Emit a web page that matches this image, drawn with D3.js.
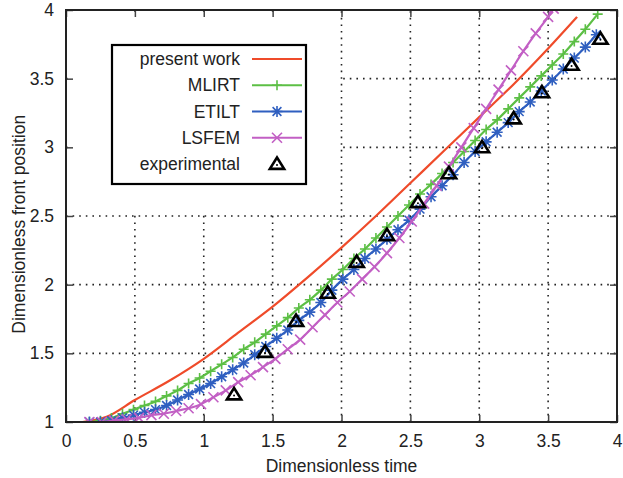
<!DOCTYPE html>
<html>
<head>
<meta charset="utf-8">
<script src="https://cdn.jsdelivr.net/npm/d3@7"></script>
<style>
  body { margin: 0; background: #fff; }
  text { font-family: "Liberation Sans", Arial, sans-serif; fill: #222; }
</style>
</head>
<body>
<svg id="chart" width="623" height="478"></svg>
<script>
// values
const xTicks = [0, 0.5, 1, 1.5, 2, 2.5, 3, 3.5, 4];
const yTicks = [1, 1.5, 2, 2.5, 3, 3.5, 4];

const presentT = [0.12, 0.3, 0.5, 0.75, 1.0, 1.25, 1.5, 1.75, 2.0, 2.25, 2.5, 2.75, 3.0, 3.25, 3.5, 3.71];
const presentV = [1.0, 1.04, 1.16, 1.30, 1.46, 1.65, 1.84, 2.05, 2.27, 2.5, 2.74, 2.98, 3.22, 3.46, 3.72, 3.95];

const mlirtT = [0.17, 0.25, 0.33, 0.41, 0.49, 0.57, 0.65, 0.73, 0.81, 0.89, 0.97, 1.05, 1.13, 1.21, 1.29, 1.37,
  1.45, 1.53, 1.61, 1.69, 1.77, 1.85, 1.93, 2.01, 2.09, 2.17, 2.25, 2.33, 2.41, 2.49, 2.57, 2.65, 2.73, 2.81,
  2.89, 2.97, 3.05, 3.13, 3.21, 3.29, 3.37, 3.45, 3.53, 3.61, 3.69, 3.77, 3.86];
const mlirtV = [1.00, 1.01, 1.03, 1.06, 1.09, 1.12, 1.15, 1.19, 1.23, 1.28, 1.32, 1.37, 1.42, 1.47, 1.53, 1.58,
  1.64, 1.70, 1.76, 1.83, 1.89, 1.96, 2.04, 2.11, 2.19, 2.26, 2.34, 2.42, 2.50, 2.58, 2.66, 2.73, 2.81, 2.89,
  2.97, 3.05, 3.13, 3.20, 3.28, 3.36, 3.44, 3.52, 3.60, 3.68, 3.77, 3.86, 3.97];

const etiltT = [0.17, 0.25, 0.33, 0.41, 0.49, 0.57, 0.65, 0.73, 0.81, 0.89, 0.97, 1.05, 1.13, 1.21, 1.29, 1.37,
  1.45, 1.53, 1.61, 1.69, 1.77, 1.85, 1.93, 2.01, 2.09, 2.17, 2.25, 2.33, 2.41, 2.49, 2.57, 2.65, 2.73, 2.81,
  2.89, 2.97, 3.05, 3.13, 3.21, 3.29, 3.37, 3.45, 3.53, 3.61, 3.69, 3.77, 3.85];
const etiltV = [1.00, 1.00, 1.01, 1.03, 1.05, 1.07, 1.09, 1.12, 1.16, 1.20, 1.24, 1.28, 1.33, 1.38, 1.43, 1.49,
  1.55, 1.61, 1.67, 1.74, 1.80, 1.87, 1.96, 2.04, 2.11, 2.19, 2.26, 2.33, 2.40, 2.47, 2.55, 2.64, 2.72, 2.80,
  2.89, 2.97, 3.04, 3.11, 3.18, 3.26, 3.33, 3.41, 3.49, 3.57, 3.65, 3.73, 3.82];

const lsfemT = [0.17, 0.26, 0.35, 0.44, 0.53, 0.62, 0.71, 0.80, 0.89, 0.98, 1.07, 1.16, 1.25, 1.34, 1.43, 1.52,
  1.61, 1.70, 1.79, 1.88, 1.97, 2.06, 2.15, 2.24, 2.33, 2.42, 2.51, 2.60, 2.69, 2.78, 2.87, 2.96, 3.05, 3.14,
  3.23, 3.32, 3.41, 3.50, 3.54];
const lsfemV = [1.00, 1.00, 1.01, 1.02, 1.03, 1.05, 1.06, 1.08, 1.10, 1.13, 1.18, 1.23, 1.29, 1.34, 1.40, 1.46,
  1.53, 1.60, 1.69, 1.78, 1.87, 1.95, 2.04, 2.13, 2.23, 2.34, 2.46, 2.59, 2.72, 2.86, 3.00, 3.14, 3.28, 3.42,
  3.56, 3.70, 3.83, 3.95, 4.01];

const expT = [1.22, 1.445, 1.67, 1.90, 2.11, 2.33, 2.555, 2.78, 3.02, 3.25, 3.455, 3.67, 3.88];
const expV = [1.20, 1.51, 1.735, 1.94, 2.165, 2.36, 2.60, 2.81, 3.00, 3.21, 3.40, 3.60, 3.79];

const legendNames = ["present work", "MLIRT", "ETILT", "LSFEM", "experimental"];

const colors = {
  present: "#ef4b2a",
  mlirt: "#5cbf45",
  etilt: "#2f5fc0",
  lsfem: "#c25fc4",
  exp: "#000"
};

const svg = d3.select("#chart");
const x = d3.scaleLinear().domain([0, 4]).range([66, 617]);
const y = d3.scaleLinear().domain([1, 4]).range([422, 10]);

const zip = (ts, vs) => ts.map((t, i) => ({ t: t, v: vs[i] }));

// clip for plot area
svg.append("clipPath").attr("id", "plotClip")
  .append("rect")
  .attr("x", x(0)).attr("y", y(4))
  .attr("width", x(4) - x(0)).attr("height", y(1) - y(4));

// grid (dotted)
const grid = svg.append("g").attr("stroke", "#222").attr("stroke-width", 1.6)
  .attr("stroke-dasharray", "1.6,5");
grid.selectAll(".gx").data(xTicks.slice(1, -1)).enter().append("line")
  .attr("x1", d => x(d)).attr("x2", d => x(d))
  .attr("y1", y(1)).attr("y2", y(4));
grid.selectAll(".gy").data(yTicks.slice(1, -1)).enter().append("line")
  .attr("x1", x(0)).attr("x2", x(4))
  .attr("y1", d => y(d)).attr("y2", d => y(d));

// the upper left block of the grid is blanked out behind the key
svg.append("rect")
  .attr("x", x(0) + 2).attr("y", y(4) + 2)
  .attr("width", x(2) - x(0) - 4).attr("height", y(2.5) - y(4) - 4)
  .attr("fill", "#fff");

// ticks & labels
const xAxis = d3.axisBottom(x).tickValues(xTicks).tickSize(-7).tickPadding(13)
  .tickFormat(d3.format("~g"));
const yAxis = d3.axisLeft(y).tickValues(yTicks).tickSize(-7).tickPadding(12)
  .tickFormat(d3.format("~g"));

const gx = svg.append("g").attr("transform", `translate(0,${y(1)})`).call(xAxis);
const gy = svg.append("g").attr("transform", `translate(${x(0)},0)`).call(yAxis);
svg.append("g").attr("transform", `translate(0,${y(4)})`)
  .call(d3.axisTop(x).tickValues(xTicks).tickSize(-7).tickFormat(""));
svg.append("g").attr("transform", `translate(${x(4)},0)`)
  .call(d3.axisRight(y).tickValues(yTicks).tickSize(-7).tickFormat(""));

svg.selectAll(".domain").remove();
svg.selectAll(".tick line").attr("stroke", "#444").attr("stroke-width", 1.5);
gx.selectAll("text").style("font-size", "17.5px").attr("fill", "#222");
gy.selectAll("text").style("font-size", "17.5px").attr("fill", "#222");

// axis titles
svg.append("text")
  .attr("x", x(2)).attr("y", 472)
  .attr("text-anchor", "middle")
  .style("font-size", "17.5px")
  .text("Dimensionless time");
svg.append("text")
  .attr("transform", `translate(25,${y(2.44)}) rotate(-90)`)
  .attr("text-anchor", "middle")
  .style("font-size", "17.5px")
  .text("Dimensionless front position");

// marker shapes
function plusPath(s) { return `M${-s},0H${s}M0,${-s}V${s}`; }
function crossPath(s) { return `M${-s},${-s}L${s},${s}M${-s},${s}L${s},${-s}`; }
function starPath(s) { return plusPath(s) + crossPath(s * 0.8); }
function triPath(s) { return `M0,${-s}L${s * 1.1},${s * 0.75}L${-s * 1.1},${s * 0.75}Z`; }

const line = d3.line().x(d => x(d.t)).y(d => y(d.v)).curve(d3.curveMonotoneX);

const plot = svg.append("g").attr("clip-path", "url(#plotClip)");

function drawSeries(data, color, markerPath) {
  plot.append("path").datum(data)
    .attr("d", line)
    .attr("fill", "none")
    .attr("stroke", color)
    .attr("stroke-width", 2.2);
  if (markerPath) {
    plot.append("g").selectAll("path").data(data).enter().append("path")
      .attr("transform", d => `translate(${x(d.t)},${y(d.v)})`)
      .attr("d", markerPath)
      .attr("fill", "none")
      .attr("stroke", color)
      .attr("stroke-width", 1.6);
  }
}

drawSeries(zip(presentT, presentV), colors.present, null);
drawSeries(zip(mlirtT, mlirtV), colors.mlirt, plusPath(5));
drawSeries(zip(etiltT, etiltV), colors.etilt, starPath(5.5));
drawSeries(zip(lsfemT, lsfemV), colors.lsfem, crossPath(5));

// experimental points
const expG = plot.append("g").selectAll("g").data(zip(expT, expV)).enter().append("g")
  .attr("transform", d => `translate(${x(d.t)},${y(d.v)})`);
expG.append("path").attr("d", triPath(6.5))
  .attr("fill", "none").attr("stroke", "#000").attr("stroke-width", 2.6)
  .attr("stroke-linejoin", "miter");
expG.append("circle").attr("r", 1).attr("cy", 1).attr("fill", "#000");

// key
const key = svg.append("g");
key.append("rect")
  .attr("x", 112).attr("y", 45).attr("width", 194).attr("height", 139)
  .attr("fill", "#fff").attr("stroke", "#000").attr("stroke-width", 2.2);

const keyRows = [
  { name: legendNames[0], color: colors.present, marker: null },
  { name: legendNames[1], color: colors.mlirt, marker: plusPath(5) },
  { name: legendNames[2], color: colors.etilt, marker: starPath(5.5) },
  { name: legendNames[3], color: colors.lsfem, marker: crossPath(5) },
  { name: legendNames[4], color: "#000", marker: "tri" }
];
const rowY = d3.scalePoint().domain(d3.range(keyRows.length)).range([59, 164]);

const row = key.selectAll(".row").data(keyRows).enter().append("g")
  .attr("transform", (d, i) => `translate(0,${rowY(i)})`);
row.append("text")
  .attr("x", 240).attr("y", 6)
  .attr("text-anchor", "end")
  .style("font-size", "17.5px")
  .text(d => d.name);
row.filter(d => d.marker !== "tri").append("line")
  .attr("x1", 252).attr("x2", 302)
  .attr("stroke", d => d.color).attr("stroke-width", 2.2);
row.filter(d => d.marker && d.marker !== "tri").append("path")
  .attr("transform", "translate(277,0)")
  .attr("d", d => d.marker)
  .attr("fill", "none").attr("stroke", d => d.color).attr("stroke-width", 1.6);
const keyTri = row.filter(d => d.marker === "tri").append("g").attr("transform", "translate(277,0)");
keyTri.append("path").attr("d", triPath(6.5))
  .attr("fill", "none").attr("stroke", "#000").attr("stroke-width", 2.6);
keyTri.append("circle").attr("r", 1).attr("cy", 1).attr("fill", "#000");

// frame
svg.append("rect")
  .attr("x", x(0)).attr("y", y(4))
  .attr("width", x(4) - x(0)).attr("height", y(1) - y(4))
  .attr("fill", "none").attr("stroke", "#222").attr("stroke-width", 2);
</script>
</body>
</html>
